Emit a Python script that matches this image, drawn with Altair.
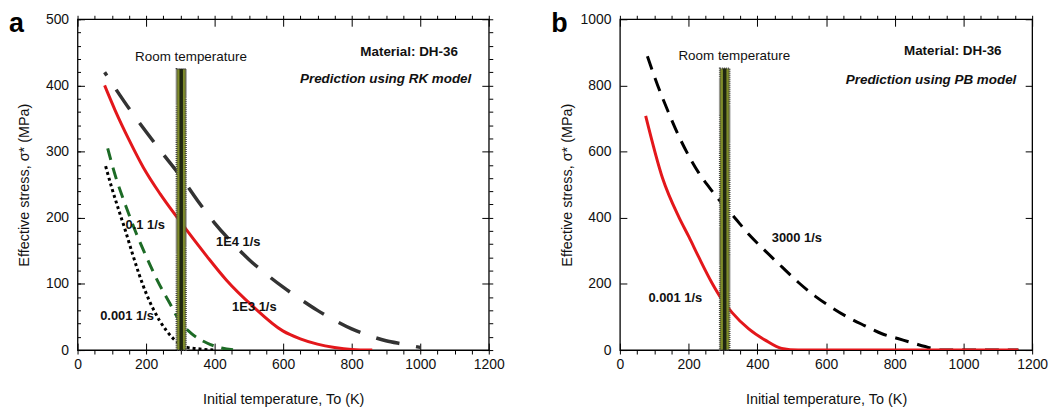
import altair as alt
import pandas as pd

# ---------------- data ----------------
X_DOMAIN = [0, 1200]
X_MINOR = [0, 50, 100, 150, 200, 250, 300, 350, 400, 450, 500, 550, 600, 650, 700, 750, 800, 850, 900, 950, 1000, 1050, 1100, 1150, 1200]
X_MAJOR = [0, 200, 400, 600, 800, 1000, 1200]

# Panel a (RK model)
A_YMAX = 500
A_Y_MINOR = [0, 20, 40, 60, 80, 100, 120, 140, 160, 180, 200, 220, 240, 260, 280, 300, 320, 340, 360, 380, 400, 420, 440, 460, 480, 500]
A_Y_MAJOR = [0, 100, 200, 300, 400, 500]

a_T_1e3 = [79, 110, 150, 192, 241, 300, 377, 434, 512, 599, 650, 700, 750, 800, 860]
a_S_1e3 = [400, 362, 318, 276, 236, 194, 142, 106, 66, 29, 17, 9, 4, 1, 0]

a_T_1e4 = [79, 120, 160, 200, 250, 300, 350, 400, 450, 500, 550, 600, 650, 700, 750, 800, 850, 900, 950, 1000]
a_S_1e4 = [420, 388, 358, 330, 296, 263, 226, 192, 163, 137, 115, 95, 77, 60, 45, 32, 22, 14, 9, 4]

a_T_01 = [88, 110, 140, 170, 200, 232, 270, 300, 330, 376, 420, 463]
a_S_01 = [305, 264, 219, 178, 142, 106, 70, 42, 26, 11, 3, 0]

a_T_0001 = [82, 100, 120, 140, 160, 180, 200, 220, 240, 260, 280, 300, 320, 350, 396]
a_S_0001 = [278, 245, 212, 180, 146, 114, 86, 63, 44, 29, 17, 9, 4, 2, 0]

a_lab_text = ["0.1 1/s", "1E4 1/s", "1E3 1/s", "0.001 1/s"]
a_lab_T = [140, 404, 451, 66]
a_lab_S = [189, 163, 65, 51]

a_info_text = ["Material: DH-36", "Prediction using RK model"]
a_info_T = [1110, 1149]
a_info_S = [451, 409]
a_info_style = ["normal", "italic"]

a_room_T = [289, 316, 302.5, 331]   # bar left, bar right, centre, label centre
a_room_S = [425, 443]               # bar top, label

# Panel b (PB model)
B_YMAX = 1000
B_Y_MAJOR = [0, 200, 400, 600, 800, 1000]

b_T_0001 = [75, 124, 172, 201, 230, 268, 297, 326, 375, 423, 471, 519, 1160]
b_S_0001 = [708, 520, 401, 342, 280, 203, 153, 114, 64, 30, 5, 0, 0]

b_T_3000 = [80, 110, 140, 170, 200, 230, 260, 300, 330, 375, 423, 471, 519, 568, 616, 664, 712, 761, 809, 857, 906, 935, 1160]
b_S_3000 = [888, 800, 722, 650, 588, 535, 492, 440, 405, 350, 300, 252, 205, 163, 129, 99, 74, 50, 35, 20, 6, 0, 0]

b_lab_text = ["3000 1/s", "0.001 1/s"]
b_lab_T = [442, 83]
b_lab_S = [339, 158]

b_info_text = ["Material: DH-36", "Prediction using PB model"]
b_info_T = [1111, 1154]
b_info_S = [904, 817]
b_info_style = ["normal", "italic"]

b_room_T = [291, 319, 305, 333]
b_room_S = [851, 888]

FONT = "Liberation Sans"
TXT = "#111111"
W, H = 414, 333


def scales(ymax):
    return (alt.Scale(domain=X_DOMAIN, nice=False, zero=False),
            alt.Scale(domain=[0, ymax], nice=False, zero=False))


def axis_layers(ymax, y_labels, y_title_pad, y_minor_inside, y_minor_right, y_major):
    xs, ys = scales(ymax)
    frame = pd.DataFrame({"T": X_DOMAIN, "S": [0, ymax]})
    common = dict(domain=False, grid=False, tickColor="#000", tickWidth=1)

    def lay(xaxis, yaxis):
        return alt.Chart(frame).mark_point(opacity=0).encode(
            x=alt.X("T:Q", scale=xs, axis=xaxis),
            y=alt.Y("S:Q", scale=ys, axis=yaxis),
        )

    layers = []
    layers.append(lay(
        alt.Axis(orient="bottom", values=X_MINOR, tickSize=4, format="d",
                 labelExpr="datum.value % 200 == 0 ? datum.label : ''",
                 labelPadding=4, labelFlush=False, labelOverlap=False,
                 labelFontSize=14, labelColor=TXT,
                 title="Initial temperature, To (K)", titlePadding=21,
                 titleFontSize=14.5, titleFontWeight="normal", titleColor=TXT, **common),
        alt.Axis(orient="left", values=y_labels, ticks=False, format="d",
                 labelPadding=9, labelFlush=False, labelOverlap=False,
                 labelFontSize=14, labelColor=TXT,
                 title="Effective stress, σ* (MPa)", titlePadding=y_title_pad,
                 titleFontSize=14.5, titleFontWeight="normal", titleColor=TXT, **common),
    ))
    layers.append(lay(
        alt.Axis(orient="top", values=X_MINOR, tickSize=4, labels=False, title=None, **common),
        alt.Axis(orient="right", values=y_minor_right, tickSize=4, labels=False, title=None, **common)
        if y_minor_right else None,
    ))
    layers.append(lay(
        alt.Axis(orient="bottom", values=X_MAJOR, tickSize=7, offset=-7, labels=False, title=None, **common),
        alt.Axis(orient="left", values=y_major, tickSize=7, offset=-7, labels=False, title=None, **common),
    ))
    layers.append(lay(
        alt.Axis(orient="top", values=X_MAJOR, tickSize=7, offset=-7, labels=False, title=None, **common),
        alt.Axis(orient="right", values=y_major, tickSize=7, offset=-7, labels=False, title=None, **common),
    ))
    if y_minor_inside:
        layers.append(lay(
            None,
            alt.Axis(orient="left", values=y_minor_inside, tickSize=3, offset=-3, labels=False, title=None, **common),
        ))
    return layers


def line_layer(T, S, ymax, color, width, dash=None, dash_offset=0):
    xs, ys = scales(ymax)
    kw = dict(color=color, strokeWidth=width, interpolate="monotone", strokeCap="butt", clip=True)
    if dash:
        kw["strokeDash"] = dash
        if dash_offset:
            kw["strokeDashOffset"] = dash_offset
    return alt.Chart(pd.DataFrame({"T": T, "S": S})).mark_line(**kw).encode(
        x=alt.X("T:Q", scale=xs, axis=None),
        y=alt.Y("S:Q", scale=ys, axis=None),
        order="T:Q",
    )


def text_layer(T, S, texts, ymax, align, weight="bold", style="normal", size=13):
    xs, ys = scales(ymax)
    df = pd.DataFrame({"T": T, "S": S, "txt": texts})
    return alt.Chart(df).mark_text(align=align, baseline="middle", fontWeight=weight,
                                   fontStyle=style, fontSize=size, color=TXT, font=FONT).encode(
        x=alt.X("T:Q", scale=xs, axis=None),
        y=alt.Y("S:Q", scale=ys, axis=None),
        text="txt:N",
    )


def room_layers(room_T, room_S, ymax):
    xs, ys = scales(ymax)
    bar = pd.DataFrame({"T1": [room_T[0]], "T2": [room_T[1]], "Tc": [room_T[2]],
                        "y0": [0], "top": [room_S[0]]})
    rect = alt.Chart(bar).mark_rect(fill="#7f8c2a", stroke="#444444", strokeWidth=2,
                                    strokeDash=[1, 1]).encode(
        x=alt.X("T1:Q", scale=xs, axis=None), x2="T2:Q",
        y=alt.Y("y0:Q", scale=ys, axis=None), y2="top:Q")
    core = alt.Chart(bar).mark_rule(color="#1f2610", strokeWidth=3.5).encode(
        x=alt.X("Tc:Q", scale=xs, axis=None),
        y=alt.Y("y0:Q", scale=ys, axis=None), y2="top:Q")
    lab = text_layer([room_T[3]], [room_S[1]], ["Room temperature"], ymax, "center",
                     weight="normal", size=13.5)
    return [rect, core, lab]


def info_layers(T, S, texts, styles, ymax):
    out = []
    for t, s, tx, st in zip(T, S, texts, styles):
        out.append(text_layer([t], [s], [tx], ymax, "right", weight="bold", style=st, size=13.5))
    return out


def letter_layer(letter):
    return alt.Chart(pd.DataFrame({"txt": [letter]})).mark_text(
        align="left", baseline="alphabetic", fontSize=27, fontWeight="bold", font=FONT, color="#000"
    ).encode(x=alt.value(-69), y=alt.value(13), text="txt:N")


# ---------------- panel a ----------------
a_layers = axis_layers(A_YMAX, A_Y_MAJOR, 14, A_Y_MINOR, A_Y_MINOR, A_Y_MAJOR)
a_layers += [
    line_layer(a_T_1e4, a_S_1e4, A_YMAX, "#333333", 3.5, [24, 17], dash_offset=20),
    line_layer(a_T_01, a_S_01, A_YMAX, "#1d6b26", 3, [12, 8]),
    line_layer(a_T_0001, a_S_0001, A_YMAX, "#000000", 3, [3, 3]),
    line_layer(a_T_1e3, a_S_1e3, A_YMAX, "#e3171b", 3),
]
a_layers += room_layers(a_room_T, a_room_S, A_YMAX)
a_layers += [text_layer(a_lab_T, a_lab_S, a_lab_text, A_YMAX, "left")]
a_layers += info_layers(a_info_T, a_info_S, a_info_text, a_info_style, A_YMAX)
a_layers += [letter_layer("a")]

panel_a = alt.layer(*a_layers).resolve_axis(x="independent", y="independent").properties(
    width=W, height=H)

# ---------------- panel b ----------------
b_layers = axis_layers(B_YMAX, B_Y_MAJOR, 6, None, None, B_Y_MAJOR)
b_layers += [
    line_layer(b_T_3000, b_S_3000, B_YMAX, "#000000", 3, [14, 9]),
    line_layer(b_T_0001, b_S_0001, B_YMAX, "#e3171b", 3),
]
b_layers += room_layers(b_room_T, b_room_S, B_YMAX)
b_layers += [text_layer(b_lab_T, b_lab_S, b_lab_text, B_YMAX, "left")]
b_layers += info_layers(b_info_T, b_info_S, b_info_text, b_info_style, B_YMAX)
b_layers += [letter_layer("b")]

panel_b = alt.layer(*b_layers).resolve_axis(x="independent", y="independent").properties(
    width=W + 1, height=H)

chart = alt.hconcat(panel_a, panel_b, spacing=45).properties(
    padding={"left": 0, "top": 0, "right": 5, "bottom": 0}
).configure(font=FONT).configure_view(stroke="#000000", strokeWidth=1.3)

chart.save("out.html", embed_options={"renderer": "svg", "actions": False})
